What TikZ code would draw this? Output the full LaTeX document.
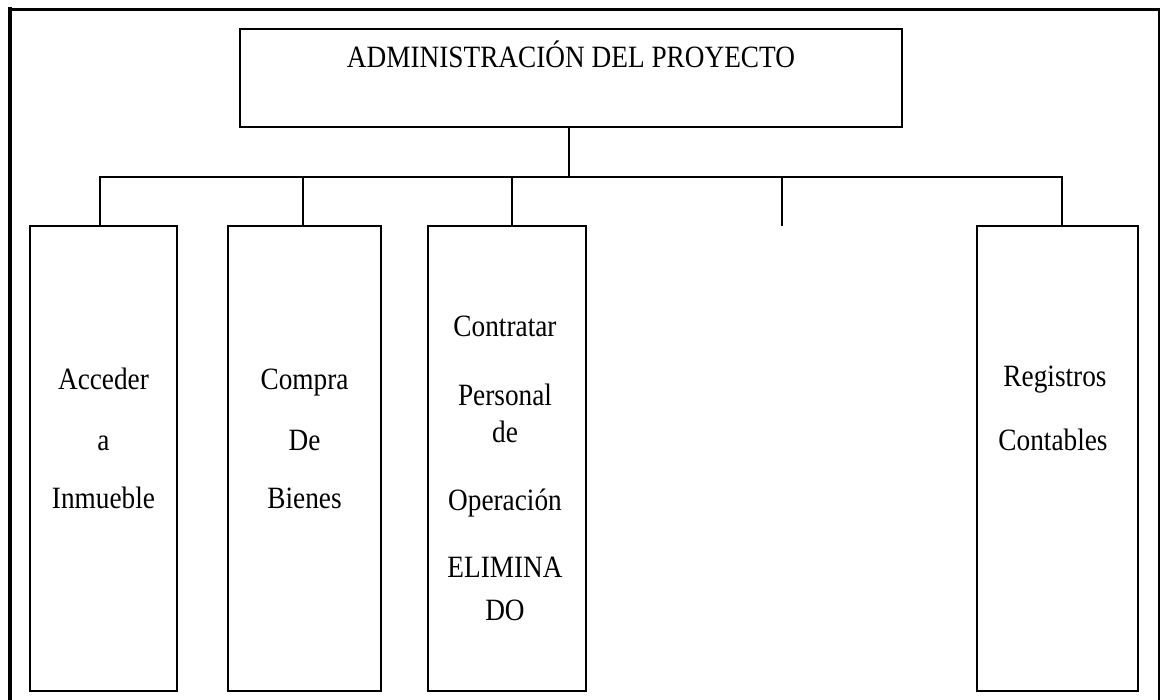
\documentclass[tikz,border=0pt]{standalone}
\usepackage{fontspec}
\setmainfont{Liberation Serif}[FakeStretch=0.88]
\begin{document}
\begin{tikzpicture}[x=1pt,y=-1pt,
  box/.style={draw, line width=2pt, inner sep=0pt, minimum height=465pt, minimum width=#1},
  topbox/.style={draw, line width=2pt, inner sep=0pt, minimum width=662pt, minimum height=98pt},
  txt/.style={font=\fontsize{31}{36}\selectfont, anchor=base, inner sep=0pt},
  conn/.style={line width=2pt},
  frame/.style={line cap=rect}]
\useasboundingbox (0,0) rectangle (1160,700);
% outer frame
\draw[frame, line width=4pt] (10,702) -- (10,9.5);
\draw[frame, line width=3pt] (10,9.5) -- (1159,9.5);
\draw[frame, line width=2pt] (1159,9.5) -- (1159,702);
% top box
\node[topbox] (admin) at (571,78) {};
\node[txt] (admintxt) at (571,68) {ADMINISTRACIÓN DEL PROYECTO};
% child boxes
\node[box=147pt] (b1) at (103.5,458.5) {};
\node[box=153pt] (b2) at (304.5,458.5) {};
\node[box=158pt] (b3) at (507,458.5) {};
\node[box=161pt] (b5) at (1057.5,458.5) {};
% junction coordinates
\coordinate (j0) at (569,177);
\coordinate (d1) at (100,177);
\coordinate (d2) at (303,177);
\coordinate (d3) at (512,177);
\coordinate (d4) at (782,177);
\coordinate (d5) at (1062,177);
\coordinate (e4) at (782,226);
% connectors
\draw[conn] (admin.south -| j0) -- (j0);
\draw[conn] (b1.north -| d1) -- (d1) -- (d5) -- (d5 |- b5.north);
\draw[conn] (d2) -- (d2 |- b2.north);
\draw[conn] (d3) -- (d3 |- b3.north);
\draw[conn] (d4) -- (e4);
% texts box 1
\node[txt] (t11) at (103.5,390) {Acceder};
\node[txt] (t12) at (103.5,451) {a};
\node[txt] (t13) at (103.5,508) {Inmueble};
% texts box 2
\node[txt] (t21) at (304.5,390) {Compra};
\node[txt] (t22) at (304.5,451) {De};
\node[txt] (t23) at (304.5,509) {Bienes};
% texts box 3
\node[txt] (t31) at (505,337) {Contratar};
\node[txt] (t32) at (505,406) {Personal};
\node[txt] (t33) at (505,443) {de};
\node[txt] (t34) at (505,511) {Operación};
\node[txt] (t35) at (505,577) {ELIMINA};
\node[txt] (t36) at (505,620) {DO};
% texts box 5
\node[txt] (t51) at (1055,387) {Registros};
\node[txt] (t52) at (1053,451) {Contables};
\end{tikzpicture}
\end{document}
